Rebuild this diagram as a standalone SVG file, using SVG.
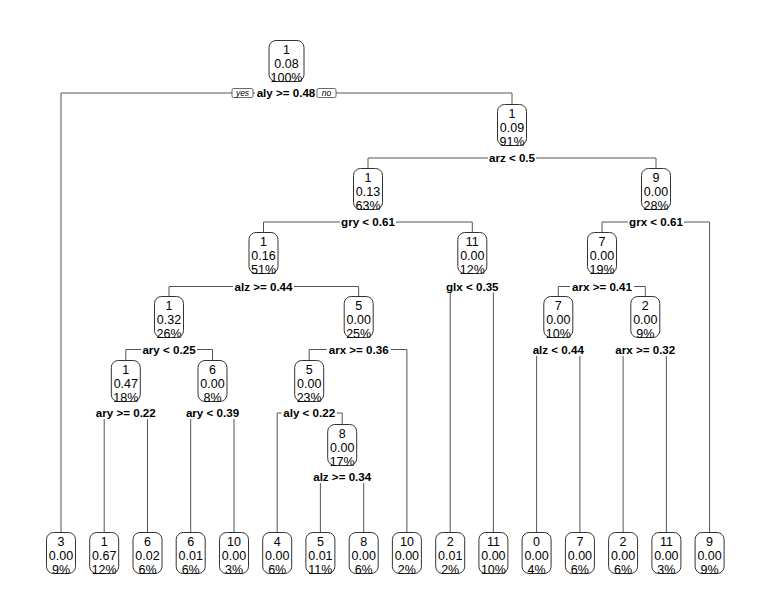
<svg xmlns="http://www.w3.org/2000/svg" width="771" height="615" viewBox="0 0 771 615">
<style>
.box{fill:#fff;stroke:#333;stroke-width:1}
.t{font-family:"Liberation Sans",Arial,sans-serif;font-size:12.5px;fill:#000;text-anchor:middle}
.lb{font-family:"Liberation Sans",Arial,sans-serif;font-size:11.6px;font-weight:bold;fill:#000;text-anchor:middle}
.bg{fill:#fff;stroke:none}
.yn{fill:#fff;stroke:#444;stroke-width:0.8}
.ynt{font-family:"Liberation Sans",Arial,sans-serif;font-size:8.5px;font-style:italic;fill:#000;text-anchor:middle}
.c{fill:none;stroke:#555;stroke-width:1}
</style>
<rect width="771" height="615" fill="#fff"/>
<defs>
<symbol id="dummy"/>
</defs>
<g id="connectors">
<path class="c" d="M61,533 V93 H512 V105"/>
<path class="c" d="M368,169 V158 H656 V169"/>
<path class="c" d="M263.5,233 V222 H472.3 V233"/>
<path class="c" d="M602,233 V222 H709.6 V533"/>
<path class="c" d="M169,297 V286.5 H358.7 V297"/>
<path class="c" d="M450.2,533 V286.5 H493.4 V533"/>
<path class="c" d="M558.3,297 V286.5 H645.3 V297"/>
<path class="c" d="M125.8,361 V349.5 H212.5 V361"/>
<path class="c" d="M309.2,361 V349.5 H406.9 V533"/>
<path class="c" d="M536.6,533 V350 H579.9 V533"/>
<path class="c" d="M623.1,533 V350 H666.4 V533"/>
<path class="c" d="M104.2,533 V413 H147.5 V533"/>
<path class="c" d="M190.7,533 V413 H234 V533"/>
<path class="c" d="M277.2,533 V413 H342.2 V425"/>
<path class="c" d="M320.4,533 V477 H363.7 V533"/>
</g>

<g id="n1">
<rect class="box" x="269" y="40.5" width="35" height="41" rx="7"/>
<text class="t" x="286.5" y="53.5">1</text><text class="t" x="286.5" y="67.5">0.08</text><text class="t" x="286.5" y="81.5">100%</text>
<rect class="bg" x="255" y="87" width="62" height="12"/>
<text class="lb" x="286" y="97.2">aly &gt;= 0.48</text>
<rect class="yn" x="232" y="88.5" width="21" height="9" rx="1.5"/>
<text class="ynt" x="242.5" y="96">yes</text>
<rect class="yn" x="317" y="88.5" width="19" height="9" rx="1.5"/>
<text class="ynt" x="326.5" y="96">no</text>
</g>

<g id="n3">
<rect class="box" x="497.5" y="104.5" width="29" height="41" rx="7"/>
<text class="t" x="512" y="117.5">1</text><text class="t" x="512" y="131.5">0.09</text><text class="t" x="512" y="145.5">91%</text>
<rect class="bg" x="488" y="152" width="48" height="12"/>
<text class="lb" x="512" y="162.2">arz &lt; 0.5</text>
</g>

<g id="n6">
<rect class="box" x="353.5" y="168.5" width="29" height="41" rx="7"/>
<text class="t" x="368" y="181.5">1</text><text class="t" x="368" y="195.5">0.13</text><text class="t" x="368" y="209.5">63%</text>
<rect class="bg" x="340" y="216" width="56" height="12"/>
<text class="lb" x="368" y="226.2">gry &lt; 0.61</text>
</g>

<g id="n7">
<rect class="box" x="641.5" y="168.5" width="29" height="41" rx="7"/>
<text class="t" x="656" y="181.5">9</text><text class="t" x="656" y="195.5">0.00</text><text class="t" x="656" y="209.5">28%</text>
<rect class="bg" x="628" y="216" width="56" height="12"/>
<text class="lb" x="656" y="226.2">grx &lt; 0.61</text>
</g>

<g id="n12">
<rect class="box" x="249" y="232.5" width="29" height="41" rx="7"/>
<text class="t" x="263.5" y="245.5">1</text><text class="t" x="263.5" y="259.5">0.16</text><text class="t" x="263.5" y="273.5">51%</text>
<rect class="bg" x="233" y="280.5" width="61" height="12"/>
<text class="lb" x="263.5" y="290.7">alz &gt;= 0.44</text>
</g>

<g id="n13">
<rect class="box" x="457.8" y="232.5" width="29" height="41" rx="7"/>
<text class="t" x="472.3" y="245.5">11</text><text class="t" x="472.3" y="259.5">0.00</text><text class="t" x="472.3" y="273.5">12%</text>
<rect class="bg" x="444.5" y="280.5" width="56" height="12"/>
<text class="lb" x="472.3" y="290.7">glx &lt; 0.35</text>
</g>

<g id="n14">
<rect class="box" x="587.5" y="232.5" width="29" height="41" rx="7"/>
<text class="t" x="602" y="245.5">7</text><text class="t" x="602" y="259.5">0.00</text><text class="t" x="602" y="273.5">19%</text>
<rect class="bg" x="570" y="280.5" width="64" height="12"/>
<text class="lb" x="602" y="290.7">arx &gt;= 0.41</text>
</g>

<g id="n24">
<rect class="box" x="154.5" y="296.5" width="29" height="41" rx="7"/>
<text class="t" x="169" y="309.5">1</text><text class="t" x="169" y="323.5">0.32</text><text class="t" x="169" y="337.5">26%</text>
<rect class="bg" x="141" y="343.5" width="56" height="12"/>
<text class="lb" x="169" y="353.7">ary &lt; 0.25</text>
</g>

<g id="n25">
<rect class="box" x="344.2" y="296.5" width="29" height="41" rx="7"/>
<text class="t" x="358.7" y="309.5">5</text><text class="t" x="358.7" y="323.5">0.00</text><text class="t" x="358.7" y="337.5">25%</text>
<rect class="bg" x="326.7" y="343.5" width="64" height="12"/>
<text class="lb" x="358.7" y="353.7">arx &gt;= 0.36</text>
</g>

<g id="n28">
<rect class="box" x="543.8" y="296.5" width="29" height="41" rx="7"/>
<text class="t" x="558.3" y="309.5">7</text><text class="t" x="558.3" y="323.5">0.00</text><text class="t" x="558.3" y="337.5">10%</text>
<rect class="bg" x="530.8" y="344" width="55" height="12"/>
<text class="lb" x="558.3" y="354.2">alz &lt; 0.44</text>
</g>

<g id="n29">
<rect class="box" x="630.8" y="296.5" width="29" height="41" rx="7"/>
<text class="t" x="645.3" y="309.5">2</text><text class="t" x="645.3" y="323.5">0.00</text><text class="t" x="645.3" y="337.5">9%</text>
<rect class="bg" x="613.3" y="344" width="64" height="12"/>
<text class="lb" x="645.3" y="354.2">arx &gt;= 0.32</text>
</g>

<g id="n48">
<rect class="box" x="111.3" y="360.5" width="29" height="41" rx="7"/>
<text class="t" x="125.8" y="373.5">1</text><text class="t" x="125.8" y="387.5">0.47</text><text class="t" x="125.8" y="401.5">18%</text>
<rect class="bg" x="93.8" y="407" width="64" height="12"/>
<text class="lb" x="125.8" y="417.2">ary &gt;= 0.22</text>
</g>

<g id="n49">
<rect class="box" x="198" y="360.5" width="29" height="41" rx="7"/>
<text class="t" x="212.5" y="373.5">6</text><text class="t" x="212.5" y="387.5">0.00</text><text class="t" x="212.5" y="401.5">8%</text>
<rect class="bg" x="184.5" y="407" width="56" height="12"/>
<text class="lb" x="212.5" y="417.2">ary &lt; 0.39</text>
</g>

<g id="n50">
<rect class="box" x="294.7" y="360.5" width="29" height="41" rx="7"/>
<text class="t" x="309.2" y="373.5">5</text><text class="t" x="309.2" y="387.5">0.00</text><text class="t" x="309.2" y="401.5">23%</text>
<rect class="bg" x="281.7" y="407" width="55" height="12"/>
<text class="lb" x="309.2" y="417.2">aly &lt; 0.22</text>
</g>

<g id="n101">
<rect class="box" x="327.7" y="424.5" width="29" height="41" rx="7"/>
<text class="t" x="342.2" y="437.5">8</text><text class="t" x="342.2" y="451.5">0.00</text><text class="t" x="342.2" y="465.5">17%</text>
<rect class="bg" x="311.2" y="471" width="62" height="12"/>
<text class="lb" x="342.2" y="481.2">alz &gt;= 0.34</text>
</g>

<g id="leaf0"><rect class="box" x="46.5" y="532.5" width="29" height="41" rx="7"/><text class="t" x="61" y="545.5">3</text><text class="t" x="61" y="559.5">0.00</text><text class="t" x="61" y="573.5">9%</text></g>
<g id="leaf1"><rect class="box" x="89.7" y="532.5" width="29" height="41" rx="7"/><text class="t" x="104.2" y="545.5">1</text><text class="t" x="104.2" y="559.5">0.67</text><text class="t" x="104.2" y="573.5">12%</text></g>
<g id="leaf2"><rect class="box" x="133" y="532.5" width="29" height="41" rx="7"/><text class="t" x="147.5" y="545.5">6</text><text class="t" x="147.5" y="559.5">0.02</text><text class="t" x="147.5" y="573.5">6%</text></g>
<g id="leaf3"><rect class="box" x="176.2" y="532.5" width="29" height="41" rx="7"/><text class="t" x="190.7" y="545.5">6</text><text class="t" x="190.7" y="559.5">0.01</text><text class="t" x="190.7" y="573.5">6%</text></g>
<g id="leaf4"><rect class="box" x="219.5" y="532.5" width="29" height="41" rx="7"/><text class="t" x="234" y="545.5">10</text><text class="t" x="234" y="559.5">0.00</text><text class="t" x="234" y="573.5">3%</text></g>
<g id="leaf5"><rect class="box" x="262.7" y="532.5" width="29" height="41" rx="7"/><text class="t" x="277.2" y="545.5">4</text><text class="t" x="277.2" y="559.5">0.00</text><text class="t" x="277.2" y="573.5">6%</text></g>
<g id="leaf6"><rect class="box" x="305.9" y="532.5" width="29" height="41" rx="7"/><text class="t" x="320.4" y="545.5">5</text><text class="t" x="320.4" y="559.5">0.01</text><text class="t" x="320.4" y="573.5">11%</text></g>
<g id="leaf7"><rect class="box" x="349.2" y="532.5" width="29" height="41" rx="7"/><text class="t" x="363.7" y="545.5">8</text><text class="t" x="363.7" y="559.5">0.00</text><text class="t" x="363.7" y="573.5">6%</text></g>
<g id="leaf8"><rect class="box" x="392.4" y="532.5" width="29" height="41" rx="7"/><text class="t" x="406.9" y="545.5">10</text><text class="t" x="406.9" y="559.5">0.00</text><text class="t" x="406.9" y="573.5">2%</text></g>
<g id="leaf9"><rect class="box" x="435.7" y="532.5" width="29" height="41" rx="7"/><text class="t" x="450.2" y="545.5">2</text><text class="t" x="450.2" y="559.5">0.01</text><text class="t" x="450.2" y="573.5">2%</text></g>
<g id="leaf10"><rect class="box" x="478.9" y="532.5" width="29" height="41" rx="7"/><text class="t" x="493.4" y="545.5">11</text><text class="t" x="493.4" y="559.5">0.00</text><text class="t" x="493.4" y="573.5">10%</text></g>
<g id="leaf11"><rect class="box" x="522.1" y="532.5" width="29" height="41" rx="7"/><text class="t" x="536.6" y="545.5">0</text><text class="t" x="536.6" y="559.5">0.00</text><text class="t" x="536.6" y="573.5">4%</text></g>
<g id="leaf12"><rect class="box" x="565.4" y="532.5" width="29" height="41" rx="7"/><text class="t" x="579.9" y="545.5">7</text><text class="t" x="579.9" y="559.5">0.00</text><text class="t" x="579.9" y="573.5">6%</text></g>
<g id="leaf13"><rect class="box" x="608.6" y="532.5" width="29" height="41" rx="7"/><text class="t" x="623.1" y="545.5">2</text><text class="t" x="623.1" y="559.5">0.00</text><text class="t" x="623.1" y="573.5">6%</text></g>
<g id="leaf14"><rect class="box" x="651.9" y="532.5" width="29" height="41" rx="7"/><text class="t" x="666.4" y="545.5">11</text><text class="t" x="666.4" y="559.5">0.00</text><text class="t" x="666.4" y="573.5">3%</text></g>
<g id="leaf15"><rect class="box" x="695.1" y="532.5" width="29" height="41" rx="7"/><text class="t" x="709.6" y="545.5">9</text><text class="t" x="709.6" y="559.5">0.00</text><text class="t" x="709.6" y="573.5">9%</text></g>
</svg>
